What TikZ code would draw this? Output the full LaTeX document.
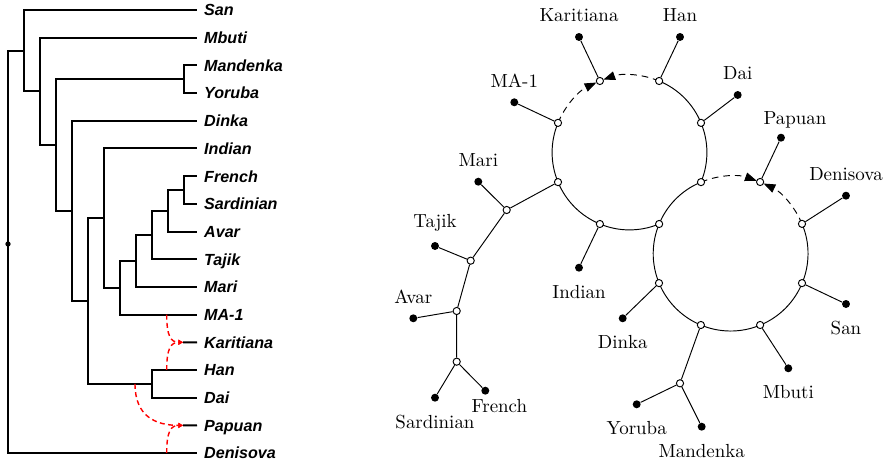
\documentclass[tikz,border=0pt]{standalone}
\usepackage{fontspec}
\newfontfamily\treefont{Liberation Sans}
\usetikzlibrary{positioning,calc,arrows.meta,backgrounds}
\tikzset{%
  taxon/.style={
    anchor=west,
    inner sep=0pt,
    xshift=3.6pt,
    text height=6.2pt,
    text depth=0pt,
    font=\treefont\bfseries\itshape\fontsize{8.5pt}{10pt}\selectfont
  },
  branch/.style={line width=1.05pt},
  flow/.style={
    red, line width=0.75pt,
    dash pattern=on 2.6pt off 1.8pt,
    -{Triangle[length=2.4pt,width=2.6pt]}
  },
  mix/.style={
    circle, draw, fill=white,
    inner sep=0pt, minimum size=3.8pt, line width=0.5pt
  },
  leaf/.style={
    circle, fill=black,
    inner sep=0pt, minimum size=4.2pt
  },
  graph/.style={line width=0.5pt},
  gflow/.style={graph, dash pattern=on 3.5pt off 2.6pt},
}

\begin{document}
\begin{tikzpicture}[x=0.528pt, y=-0.528pt, node distance=2pt,
                    >={Triangle[length=6.2pt,width=4.6pt]}]
\useasboundingbox (0,0) rectangle (887,462);

% tree on the left
\foreach \id/\txt/\row in {san/San/0,mbu/Mbuti/1,man/Mandenka/2,yor/Yoruba/3,
    din/Dinka/4,ind/Indian/5,fre/French/6,sar/Sardinian/7,ava/Avar/8,taj/Tajik/9,
    mar/Mari/10,maa/MA-1/11,kar/Karitiana/12,han/Han/13,dai/Dai/14,pap/Papuan/15,
    den/Denisova/16}
{
  \coordinate (t\id) at (197,{10+27.69*\row});
  \node[taxon] (n\id) at (t\id) {\txt};
}
\coordinate (root) at (8,251.9);
\coordinate (ca) at (24,50.7);
\coordinate (cb) at (40,91.4);
\coordinate (cc) at (56,145);
\coordinate (cmy) at (184,79.2);
\coordinate (cd) at (72,210.9);
\coordinate (ce) at (88,301);
\coordinate (chd) at (152,383.9);
\coordinate (cf) at (104,218.2);
\coordinate (cg) at (120,287.8);
\coordinate (ch) at (136,261);
\coordinate (ci) at (152,235);
\coordinate (cj) at (168,210.7);
\coordinate (ck) at (184,190);
\coordinate (kjoin) at (183,342.3);
\coordinate (pjoin) at (183,425.4);
\coordinate (kfa) at (166.7,314.6);
\coordinate (kfb) at (166.7,370);
\coordinate (pfa) at (135,383.9);
\coordinate (pfb) at (166.7,453);

\draw[branch] (root) |- (ca) (root) |- (tden);
\draw[branch] (ca) |- (tsan) (ca) |- (cb);
\draw[branch] (cb) |- (tmbu) (cb) |- (cc);
\draw[branch] (cc) |- (cmy) (cc) |- (cd);
\draw[branch] (cmy) |- (tman) (cmy) |- (tyor);
\draw[branch] (cd) |- (tdin) (cd) |- (ce);
\draw[branch] (ce) |- (cf) (ce) |- (chd);
\draw[branch] (chd) |- (than) (chd) |- (tdai);
\draw[branch] (cf) |- (tind) (cf) |- (cg);
\draw[branch] (cg) |- (ch) (cg) |- (tmaa);
\draw[branch] (ch) |- (ci) (ch) |- (tmar);
\draw[branch] (ci) |- (cj) (ci) |- (ttaj);
\draw[branch] (cj) |- (ck) (cj) |- (tava);
\draw[branch] (ck) |- (tfre) (ck) |- (tsar);
\draw[branch] (kjoin) -- (tkar) (pjoin) -- (tpap);
\node[leaf, minimum size=2.8pt] (rdot) at (8,244) {};

\draw[flow] (kfa) .. controls +(0,22) and +(-12,0) .. (kjoin);
\draw[flow] (kfb) .. controls +(0,-22) and +(-12,0) .. (kjoin);
\draw[flow] (pfa) .. controls +(0,32) and +(-28,0) .. (pjoin);
\draw[flow] (pfb) .. controls +(0,-22) and +(-12,0) .. (pjoin);

% admixture graph on the right
\coordinate (L) at (629.5,152.5);
\coordinate (R) at (730.5,253.5);
\foreach \id/\ang in {kI/-112.5,hI/-67.5,dI/-22.5,sp/22.5,jn/67.5,iI/112.5,
    mI/157.5,aI/-157.5}
  \node[mix] (\id) at ($(L)+(\ang:77.4)$) {};
\foreach \id/\ang in {pI/-67.5,deI/-22.5,sI/22.5,mbI/67.5,yI/112.5,diI/157.5}
  \node[mix] (\id) at ($(R)+(\ang:77.4)$) {};
\node[mix] (mB) at (506.7,210) {};
\node[mix] (tB) at (470.7,260.7) {};
\node[mix] (avB) at (456.7,311) {};
\node[mix] (fsB) at (456.7,361.7) {};
\node[mix] (ymB) at (680,383.3) {};

\node[leaf] (karD) at (579,37) {};
\node[leaf] (hanD) at (680,37) {};
\node[leaf] (daiD) at (737.7,95) {};
\node[leaf] (maaD) at (514.3,102.3) {};
\node[leaf] (papD) at (781,137.7) {};
\node[leaf] (denD) at (846,195.7) {};
\node[leaf] (marD) at (478.3,181.7) {};
\node[leaf] (tajD) at (435,246) {};
\node[leaf] (avaD) at (413.3,318.3) {};
\node[leaf] (sarD) at (435,397.7) {};
\node[leaf] (freD) at (485.3,390.7) {};
\node[leaf] (indD) at (579,267.7) {};
\node[leaf] (dinD) at (622.7,318.3) {};
\node[leaf] (yorD) at (636.7,404.3) {};
\node[leaf] (manD) at (701.7,426.7) {};
\node[leaf] (mbuD) at (788.3,368.3) {};
\node[leaf] (sanD) at (846,304) {};

\node[above=of karD] (karL) {Karitiana};
\node[above=of hanD] (hanL) {Han};
\node[above=of daiD] (daiL) {Dai};
\node[above=of maaD] (maaL) {MA-1};
\node[above=of denD] (denL) {Denisova};
\node[above=of marD] (marL) {Mari};
\node[above=of tajD] (tajL) {Tajik};
\node[above=of avaD] (avaL) {Avar};
\node[above=-1pt of papD, xshift=7.4pt] (papL) {Papuan};
\node[below=3.3pt of indD] (indL) {Indian};
\node[below=3.3pt of dinD] (dinL) {Dinka};
\node[below=3.3pt of yorD] (yorL) {Yoruba};
\node[below=3.3pt of manD] (manL) {Mandenka};
\node[below=3.3pt of mbuD] (mbuL) {Mbuti};
\node[below=3.3pt of sanD] (sanL) {San};
\node[below=3.3pt of sarD] (sarL) {Sardinian};
\node[below=-1pt of freD, xshift=7.4pt] (freL) {French};

\begin{scope}[on background layer]
  \draw[graph] (kI) -- (karD) (hI) -- (hanD) (dI) -- (daiD) (aI) -- (maaD)
    (pI) -- (papD) (deI) -- (denD) (sI) -- (sanD) (mbI) -- (mbuD)
    (yI) -- (ymB) (ymB) -- (yorD) (ymB) -- (manD) (diI) -- (dinD)
    (iI) -- (indD) (mI) -- (mB) (mB) -- (marD) (mB) -- (tB) (tB) -- (tajD)
    (tB) -- (avB) (avB) -- (avaD) (avB) -- (fsB) (fsB) -- (sarD) (fsB) -- (freD);
  \draw[graph] (hI.center) arc[start angle=-67.5, end angle=22.5, radius=77.4];
  \draw[graph] (jn.center) arc[start angle=67.5, end angle=202.5, radius=77.4];
  \draw[graph] (sp.center) arc[start angle=-112.5, end angle=-382.5, radius=77.4];
  \draw[gflow,->] (aI.center) arc[start angle=202.5, end angle=244.7, radius=77.4];
  \draw[gflow,->] (hI.center) arc[start angle=-67.5, end angle=-109.7, radius=77.4];
  \draw[gflow,->] (sp.center) arc[start angle=-112.5, end angle=-70.3, radius=77.4];
  \draw[gflow,->] (deI.center) arc[start angle=-22.5, end angle=-64.7, radius=77.4];
\end{scope}
\end{tikzpicture}
\end{document}
